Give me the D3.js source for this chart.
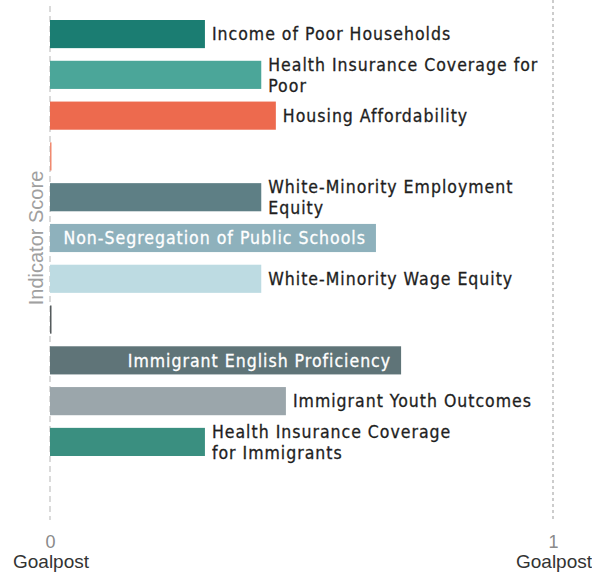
<!DOCTYPE html>
<html>
<head>
<meta charset="utf-8">
<script src="https://cdn.jsdelivr.net/npm/d3@7"></script>
<style>
  body { margin: 0; background: #fff; }
  .label { font-family: "DejaVu Sans Condensed", "DejaVu Sans", sans-serif; font-stretch: condensed; font-size: 17.5px; letter-spacing: 1px; fill: #1e1e1e; stroke: #1e1e1e; stroke-width: 0.3px; }
  .label.inside { fill: #fff; stroke: #fff; }
  .tick text { font-family: "Liberation Sans", Arial, sans-serif; font-size: 18px; fill: #8a8a8a; }
  .goal { font-family: "Liberation Sans", Arial, sans-serif; font-size: 19px; fill: #333; }
  .ytitle { font-family: "Liberation Sans", Arial, sans-serif; font-size: 20px; fill: #a0a0a0; }
</style>
</head>
<body>
<div id="chart"></div>
<script>
// indicator rows, top to bottom (empty rows are spacers with a sliver of colour)
var labels = [
  ["Income of Poor Households"],
  ["Health Insurance Coverage for", "Poor"],
  ["Housing Affordability"],
  [],
  ["White-Minority Employment", "Equity"],
  ["Non-Segregation of Public Schools"],
  ["White-Minority Wage Equity"],
  [],
  ["Immigrant English Proficiency"],
  ["Immigrant Youth Outcomes"],
  ["Health Insurance Coverage", "for Immigrants"]
];
var scores = [0.308, 0.42, 0.449, 0.003, 0.42, 0.648, 0.42, 0.003, 0.698, 0.469, 0.308];
var colors = ["#1b7d72", "#4ba699", "#ed6a4e", "#f08a70", "#5e7f85", "#8eb1bc", "#bddbe2", "#555b5d", "#5f7478", "#9ba6ab", "#3a8f80"];
var ticks = [0, 1];
var tickNames = ["Goalpost", "Goalpost"];

var width = 592, height = 574;
var svg = d3.select("#chart").append("svg")
  .attr("width", width)
  .attr("height", height);

var x = d3.scaleLinear().domain([0, 1]).range([50, 553]);
var y = d3.scaleBand()
  .domain(d3.range(scores.length))
  .range([20, 456])
  .paddingInner(0.31)
  .paddingOuter(0);

// goalpost lines
svg.selectAll(".goalline")
  .data(ticks)
  .enter()
  .append("line")
  .attr("class", "goalline")
  .attr("x1", function(d) { return x(d); })
  .attr("x2", function(d) { return x(d); })
  .attr("y1", function(d) { return d === 0 ? 6 : 0; })
  .attr("y2", 520)
  .attr("stroke", function(d) { return d === 0 ? "#b5b5b5" : "#999"; })
  .attr("stroke-width", 1)
  .attr("stroke-dasharray", function(d) { return d === 0 ? "6,4" : "3,3"; });

var rows = svg.selectAll(".row")
  .data(scores)
  .enter()
  .append("g")
  .attr("class", "row");

rows.append("rect")
  .attr("x", x(0))
  .attr("y", function(d, i) { return y(i); })
  .attr("width", function(d) { return x(d) - x(0); })
  .attr("height", y.bandwidth())
  .attr("fill", function(d, i) { return colors[i]; });

// long bars carry their label inside, right-aligned
rows.each(function(d, i) {
  var lines = labels[i];
  if (!lines.length) return;
  var inside = d > 0.6;
  var cy = y(i) + y.bandwidth() / 2;
  var lh = 21;
  var tx = inside ? x(d) - 10 : x(d) + 7;
  var t = d3.select(this).append("text")
    .attr("class", inside ? "label inside" : "label")
    .attr("text-anchor", inside ? "end" : "start")
    .attr("x", tx);
  lines.forEach(function(s, k) {
    t.append("tspan")
      .attr("x", tx)
      .attr("y", cy + (k - (lines.length - 1) / 2) * lh)
      .attr("dy", "0.36em")
      .text(s);
  });
});

// bottom axis: 0 / 1 goalposts
var axis = svg.append("g")
  .attr("transform", "translate(0,534)")
  .call(d3.axisBottom(x).tickValues(ticks).tickFormat(d3.format("d")).tickSize(0).tickPadding(0));
axis.select(".domain").remove();
axis.selectAll(".tick text").attr("dy", "0.75em").attr("fill", null);

svg.selectAll(".goal")
  .data(ticks)
  .enter()
  .append("text")
  .attr("class", "goal")
  .attr("x", function(d) { return x(d) + 1; })
  .attr("y", 568)
  .attr("text-anchor", "middle")
  .text(function(d, i) { return tickNames[i]; });

svg.append("text")
  .attr("class", "ytitle")
  .attr("transform", "translate(43,238) rotate(-90)")
  .attr("text-anchor", "middle")
  .text("Indicator Score");
</script>
</body>
</html>
